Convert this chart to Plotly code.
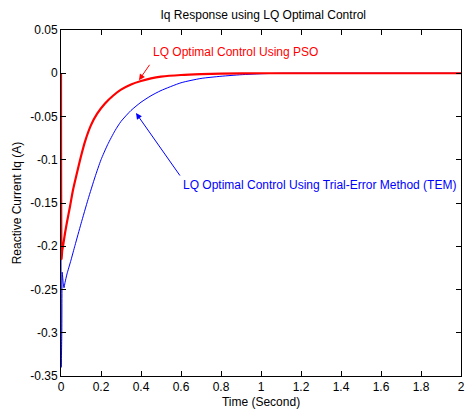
import plotly.graph_objects as go

# PSO response (red)
t_pso = [0, 0.003, 0.006, 0.01, 0.02, 0.03, 0.045, 0.06, 0.08, 0.1, 0.12, 0.15, 0.18,
         0.22, 0.26, 0.3, 0.35, 0.4, 0.45, 0.5, 0.6, 0.7, 0.8, 1.0, 1.4, 2.0]
iq_pso = [0, -0.215, -0.205, -0.2, -0.185, -0.172, -0.154, -0.135, -0.115, -0.096, -0.079,
          -0.06, -0.047, -0.035, -0.026, -0.019, -0.013, -0.009, -0.006, -0.004, -0.002,
          -0.001, -0.0005, 0, 0, 0]

# Trial-Error Method response (blue)
t_tem = [0, 0.001, 0.004, 0.006, 0.01, 0.015, 0.02, 0.03, 0.05, 0.07, 0.1, 0.135, 0.17,
         0.2, 0.233, 0.27, 0.3, 0.35, 0.4, 0.45, 0.5, 0.6, 0.7, 0.8, 0.9, 1.0, 1.1, 2.0]
iq_tem = [0, -0.34, -0.3, -0.23, -0.24, -0.248, -0.242, -0.232, -0.216, -0.199, -0.174,
          -0.146, -0.12, -0.1, -0.0826, -0.0664, -0.0557, -0.043, -0.0335, -0.026, -0.02,
          -0.011, -0.006, -0.0035, -0.0017, -0.0006, 0, 0]

x_ticks = [0, 0.2, 0.4, 0.6, 0.8, 1, 1.2, 1.4, 1.6, 1.8, 2]
y_ticks = [0.05, 0, -0.05, -0.1, -0.15, -0.2, -0.25, -0.3, -0.35]

FONT = "Liberation Sans, Arial, sans-serif"

fig = go.Figure()
fig.add_trace(go.Scatter(x=t_tem, y=iq_tem, mode="lines",
                         line=dict(color="#0000ff", width=1, shape="spline", smoothing=0.6),
                         showlegend=False))
fig.add_trace(go.Scatter(x=t_pso, y=iq_pso, mode="lines",
                         line=dict(color="#ff0000", width=2.2, shape="spline", smoothing=0.6),
                         showlegend=False))

# labels
fig.add_annotation(x=0.45, y=0.0245, xref="x", yref="y", text="LQ Optimal Control Using PSO",
                   showarrow=False, xanchor="left", yanchor="middle",
                   font=dict(color="#ff0000", size=12, family=FONT))
fig.add_annotation(x=0.6, y=-0.1295, xref="x", yref="y",
                   text="LQ Optimal Control Using Trial-Error Method (TEM)",
                   showarrow=False, xanchor="left", yanchor="middle",
                   font=dict(color="#0000ff", size=12, family=FONT))
# arrows
fig.add_annotation(x=0.39, y=-0.008, xref="x", yref="y", ax=0.448, ay=0.0115,
                   axref="x", ayref="y", text="", showarrow=True, arrowhead=2,
                   arrowsize=1.2, arrowwidth=1, arrowcolor="#ff0000")
fig.add_annotation(x=0.375, y=-0.046, xref="x", yref="y", ax=0.6, ay=-0.12,
                   axref="x", ayref="y", text="", showarrow=True, arrowhead=2,
                   arrowsize=1.2, arrowwidth=1, arrowcolor="#0000ff")

fig.update_layout(
    width=468, height=413,
    margin=dict(l=61, r=3, t=30, b=37),
    paper_bgcolor="white", plot_bgcolor="white",
    font=dict(family=FONT, size=12, color="black"),
    title=dict(text="Iq Response using LQ Optimal Control", x=0.5625, xanchor="center",
               y=0.963, yanchor="middle", font=dict(size=12, family=FONT)),
)
fig.update_xaxes(range=[0, 2], tickvals=x_ticks, ticktext=[str(v) for v in x_ticks],
                 ticklabeloverflow="allow",
                 ticks="inside", ticklen=5, tickcolor="black", showline=True, linecolor="black",
                 linewidth=1, mirror="ticks", showgrid=False, zeroline=False,
                 title=dict(text="Time (Second)", standoff=4, font=dict(size=12)))
fig.update_yaxes(range=[-0.35, 0.05], tickvals=y_ticks, ticktext=[str(v) for v in y_ticks],
                 ticklabeloverflow="allow",
                 ticks="inside", ticklen=5, tickcolor="black", showline=True, linecolor="black",
                 linewidth=1, mirror="ticks", showgrid=False, zeroline=False,
                 title=dict(text="Reactive Current Iq (A)", standoff=6, font=dict(size=12)))

fig.write_html("out.html", config={"displayModeBar": False},
               post_script="document.body.style.margin='0';")
